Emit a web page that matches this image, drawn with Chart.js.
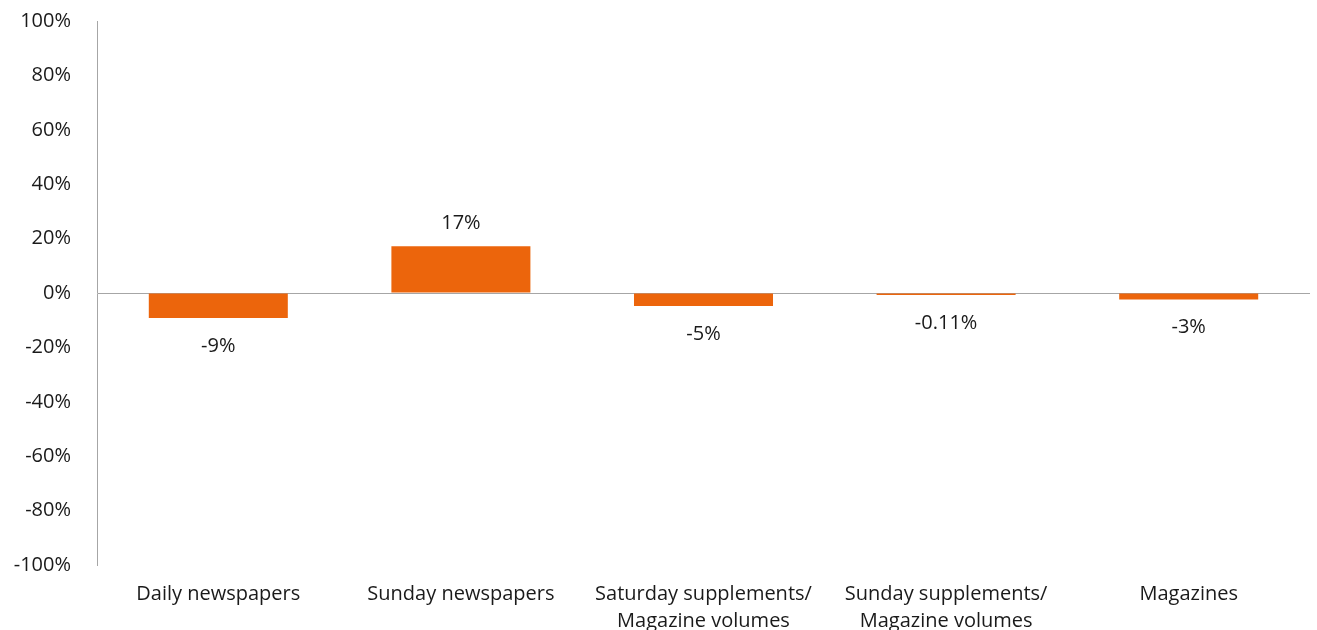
<!DOCTYPE html>
<html>
<head>
<meta charset="utf-8">
<script src="https://cdn.jsdelivr.net/npm/chart.js@4"></script>
<style>
  html, body { margin: 0; padding: 0; background: #fff; overflow: hidden; }
  #wrap { width: 1317px; height: 645px; position: relative; }
</style>
</head>
<body>
<div id="wrap"><canvas id="printChart"></canvas></div>
<script>
// print volume change by category
const categories = [
  'Daily newspapers',
  'Sunday newspapers',
  ['Saturday supplements/', 'Magazine volumes'],
  ['Sunday supplements/', 'Magazine volumes'],
  'Magazines'
];
const changeValues = [-9.2, 17.2, -4.8, -0.11, -2.4];
const valueLabels = ['-9%', '17%', '-5%', '-0.11%', '-3%'];
const yTicks = [-100, -80, -60, -40, -20, 0, 20, 40, 60, 80, 100];

const FONT = "'Open Sans', 'Noto Sans', sans-serif";
const FONT_SIZE = 20;
const AXIS_GREY = '#a6a6a6';
const BAR_ORANGE = '#ec650c';

// draws the value text above positive bars / below negative ones
const valueLabelPlugin = {
  id: 'valueLabels',
  afterDatasetsDraw(chart) {
    const ctx = chart.ctx;
    const meta = chart.getDatasetMeta(0);
    ctx.save();
    ctx.font = FONT_SIZE + 'px ' + FONT;
    ctx.fillStyle = '#1a1a1a';
    ctx.textAlign = 'center';
    ctx.textBaseline = 'middle';
    meta.data.forEach((bar, i) => {
      const v = changeValues[i];
      const y = v >= 0 ? bar.y - 23 : bar.y + 28;
      ctx.fillText(valueLabels[i], bar.x, y);
    });
    ctx.restore();
  }
};

const ctx = document.getElementById('printChart');

new Chart(ctx, {
  type: 'bar',
  data: {
    labels: categories,
    datasets: [{
      data: changeValues,
      backgroundColor: BAR_ORANGE,
      borderWidth: 0,
      barPercentage: 0.573,
      categoryPercentage: 1,
      minBarLength: 2
    }]
  },
  options: {
    responsive: true,
    maintainAspectRatio: false,
    animation: false,
    layout: { padding: { top: 21, right: 7, left: 0, bottom: 0 } },
    plugins: {
      legend: { display: false },
      tooltip: { enabled: false }
    },
    scales: {
      x: {
        grid: { display: false },
        border: { display: false },
        ticks: {
          color: '#1a1a1a',
          font: { family: FONT, size: FONT_SIZE, lineHeight: 1.35 },
          padding: 8,
          maxRotation: 0,
          autoSkip: false
        },
        afterFit: (scale) => { scale.height = 80; scale.paddingLeft = 0; scale.paddingRight = 0; }
      },
      y: {
        min: -100,
        max: 100,
        afterBuildTicks: (scale) => { scale.ticks = yTicks.map(v => ({ value: v })); },
        grid: {
          drawTicks: false,
          color: (c) => (c.tick && c.tick.value === 0 ? AXIS_GREY : 'transparent'),
          lineWidth: 1
        },
        border: { display: true, color: AXIS_GREY, width: 1 },
        ticks: {
          color: '#1a1a1a',
          font: { family: FONT, size: FONT_SIZE },
          padding: 26,
          callback: (v) => v + '%'
        },
        afterFit: (scale) => { scale.width = 97; scale.paddingTop = 0; scale.paddingBottom = 0; }
      }
    }
  },
  plugins: [valueLabelPlugin]
});
</script>
</body>
</html>
